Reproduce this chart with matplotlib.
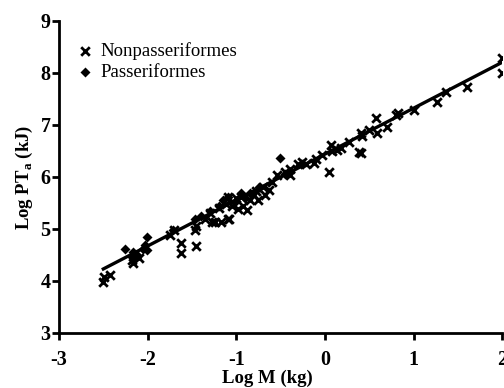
import numpy as np
import matplotlib
matplotlib.use("Agg")
import matplotlib.pyplot as plt

# Log M (kg), Log PTa (kJ)
non_x = [-2.50, -2.49, -2.43, -2.18, -2.17, -2.10, -1.75, -1.70, -1.62, -1.62, -1.47, -1.45,
         -1.45, -1.35, -1.30, -1.28, -1.24, -1.17, -1.10, -1.08, -1.20, -1.12, -1.05, -0.98,
         -0.92, -0.88, -0.95, -0.85, -0.80, -0.76, -0.70, -0.63, -0.60, -0.54, -0.45, -0.40,
         -0.40, -0.30, -0.26, -0.22, -0.12, -0.10, -0.03, 0.04, 0.07, 0.08, 0.13, 0.18,
         0.27, 0.38, 0.40, 0.40, 0.42, 0.49, 0.58, 0.57, 0.70, 0.80, 0.82, 1.00,
         1.26, 1.36, 1.60, 1.99, 1.99, -1.00, -0.78, -0.68, -1.10]
non_y = [3.98, 4.08, 4.12, 4.40, 4.35, 4.45, 4.88, 4.98, 4.73, 4.54, 4.98, 4.67,
         5.05, 5.20, 5.30, 5.13, 5.13, 5.13, 5.19, 5.19, 5.40, 5.47, 5.45, 5.38,
         5.45, 5.37, 5.62, 5.55, 5.65, 5.56, 5.80, 5.75, 5.90, 6.04, 6.10, 6.04,
         6.15, 6.25, 6.29, 6.25, 6.27, 6.35, 6.42, 6.10, 6.62, 6.50, 6.52, 6.55,
         6.67, 6.48, 6.46, 6.85, 6.78, 6.90, 6.85, 7.13, 6.96, 7.19, 7.23, 7.29,
         7.44, 7.63, 7.73, 8.29, 8.00, 5.60, 5.72, 5.65, 5.62]

pas_x = [-2.26, -2.17, -2.15, -2.12, -2.05, -2.03, -2.01, -2.01, -1.72, -1.47, -1.40, -1.30,
         -1.20, -1.15, -1.10, -1.02, -0.95, -0.90, -0.85, -0.75, -0.51, -0.45]
pas_y = [4.62, 4.56, 4.48, 4.50, 4.62, 4.69, 4.85, 4.60, 4.98, 5.19, 5.25, 5.35,
         5.45, 5.55, 5.62, 5.52, 5.70, 5.60, 5.70, 5.80, 6.37, 6.05]

# fitted line
fit_x = [-2.5, 2.0]
slope, intercept = 0.884, 6.44

plt.rcParams['font.family'] = ['Liberation Serif', 'DejaVu Serif']
plt.rcParams['axes.unicode_minus'] = False

fig = plt.figure(figsize=(5.04, 3.88), dpi=100)
ax = fig.add_axes([0.117, 0.142, 0.880, 0.804])

ax.scatter(non_x, non_y, marker='x', s=38, color='black', linewidths=2,
           label='Nonpasseriformes', zorder=3)
ax.scatter(pas_x, pas_y, marker='D', s=26, color='black', linewidths=0,
           label='Passeriformes', zorder=3)
ax.plot(fit_x, [slope * v + intercept for v in fit_x], color='black', lw=2.4, zorder=2)

ax.set_xlim(-3, 2)
ax.set_ylim(3, 9)
ax.set_xticks([-3, -2, -1, 0, 1, 2])
ax.set_yticks([3, 4, 5, 6, 7, 8, 9])
for s in ['top', 'right']:
    ax.spines[s].set_visible(False)
for s in ['left', 'bottom']:
    ax.spines[s].set_linewidth(2)
ax.tick_params(direction='out', length=5, width=2, labelsize=14.5)
ax.tick_params(axis='x', pad=7)
ax.tick_params(axis='y', pad=1)
for lab in ax.get_xticklabels() + ax.get_yticklabels():
    lab.set_fontweight('bold')

ax.set_xlabel('Log M (kg)', fontsize=13.5, fontweight='bold')
ax.xaxis.set_label_coords(0.47, -0.118)
ax.set_ylabel(r'Log PT$_\mathregular{a}$ (kJ)', fontsize=13.5, fontweight='bold', labelpad=4)

ax.legend(loc='upper left', bbox_to_anchor=(0.02, 0.955), frameon=False, fontsize=13.5,
          handletextpad=0.35, labelspacing=0.2, borderaxespad=0, handlelength=1.0)

fig.savefig('out.png', dpi=100)
